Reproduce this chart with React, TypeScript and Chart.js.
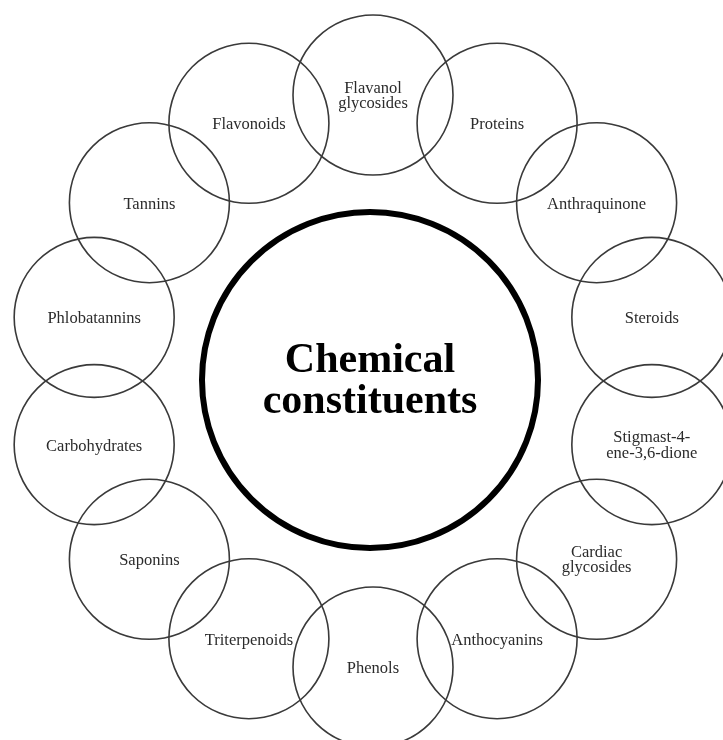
import { useEffect, useRef } from "react";
import { Chart, registerables } from "chart.js";

Chart.register(...registerables);

// Data: the constituents, clockwise from the top
const constituents: string[][] = [
  ["Flavanol", "glycosides"],
  ["Proteins"],
  ["Anthraquinone"],
  ["Steroids"],
  ["Stigmast-4-", "ene-3,6-dione"],
  ["Cardiac", "glycosides"],
  ["Anthocyanins"],
  ["Phenols"],
  ["Triterpenoids"],
  ["Saponins"],
  ["Carbohydrates"],
  ["Phlobatannins"],
  ["Tannins"],
  ["Flavonoids"],
];
const centerTitle: string[] = ["Chemical", "constituents"];

// Layout
const W = 723;
const H = 740;
const RING_CX = 373;
const RING_CY = 381;
const RING_R = 286;
const NODE_R = 80;
const CENTER_X = 370;
const CENTER_Y = 380;
const CENTER_R = 168;

const labelPlugin = {
  id: "nodeLabels",
  afterDatasetsDraw(chart: any) {
    const ctx = chart.ctx;
    ctx.save();
    ctx.textAlign = "center";
    ctx.textBaseline = "alphabetic";
    const meta = chart.getDatasetMeta(0);
    ctx.fillStyle = "#2b2b2b";
    ctx.font = '16.5px "Liberation Serif", "DejaVu Serif", serif';
    meta.data.forEach((el: any, i: number) => {
      const lines = constituents[i];
      if (lines.length === 1) {
        ctx.fillText(lines[0], el.x, el.y + 6);
      } else {
        ctx.fillText(lines[0], el.x, el.y - 2.5);
        ctx.fillText(lines[1], el.x, el.y + 13);
      }
    });
    const cm = chart.getDatasetMeta(1).data[0];
    ctx.fillStyle = "#000000";
    ctx.font = 'bold 42px "Liberation Serif", "DejaVu Serif", serif';
    ctx.fillText(centerTitle[0], cm.x, cm.y - 8);
    ctx.fillText(centerTitle[1], cm.x, cm.y + 33);
    ctx.restore();
  },
};

export default function App() {
  const ref = useRef<HTMLCanvasElement | null>(null);

  useEffect(() => {
    document.body.style.margin = "0";
    const canvas = ref.current;
    if (!canvas) return;
    const n = constituents.length;
    const nodes = constituents.map((_, i) => {
      const a = ((-90 + (i * 360) / n) * Math.PI) / 180;
      return {
        x: RING_CX + RING_R * Math.cos(a),
        y: RING_CY + RING_R * Math.sin(a),
        r: NODE_R,
      };
    });
    const chart = new Chart(canvas, {
      type: "bubble",
      data: {
        datasets: [
          {
            label: "Constituents",
            data: nodes,
            backgroundColor: "rgba(0,0,0,0)",
            borderColor: "#3a3a3a",
            borderWidth: 1.6,
            hoverBorderWidth: 1.6,
            clip: false,
          } as any,
          {
            label: "Center",
            data: [{ x: CENTER_X, y: CENTER_Y, r: CENTER_R }],
            backgroundColor: "rgba(0,0,0,0)",
            borderColor: "#000000",
            borderWidth: 6,
            hoverBorderWidth: 6,
            clip: false,
          } as any,
        ],
      },
      options: {
        responsive: false,
        animation: false,
        events: [],
        layout: { padding: 0, autoPadding: false },
        plugins: {
          legend: { display: false },
          tooltip: { enabled: false },
          title: { display: false },
        },
        scales: {
          x: { type: "linear", min: 0, max: W, display: false },
          y: { type: "linear", min: 0, max: H, reverse: true, display: false },
        },
      },
      plugins: [labelPlugin],
    });
    return () => chart.destroy();
  }, []);

  return (
    <div style={{ width: W, height: H, background: "#ffffff" }}>
      <canvas ref={ref} width={W} height={H} style={{ display: "block" }} />
    </div>
  );
}
